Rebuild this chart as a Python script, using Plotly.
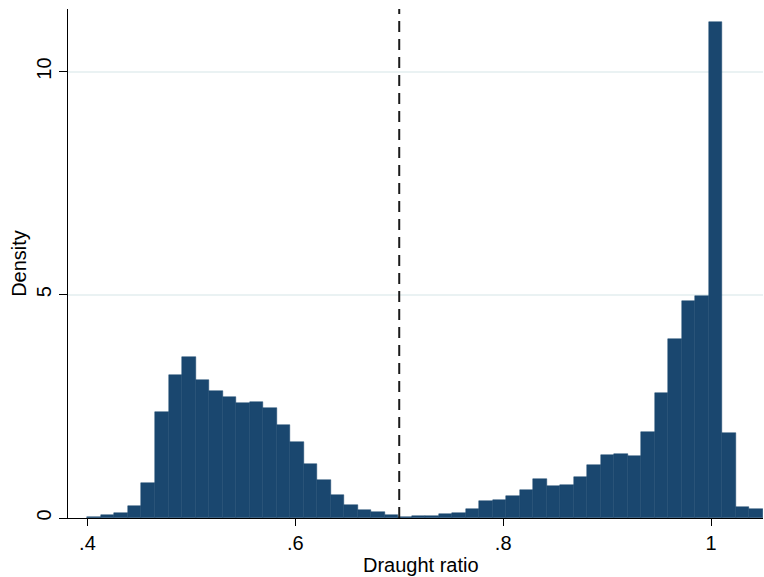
import numpy as np
import plotly.graph_objects as go

# Histogram: 50 bins starting at 0.4, width 0.013
bin_start = 0.4
bin_width = 0.013
density = [
    0.03, 0.07, 0.11, 0.26, 0.79, 2.37, 3.21, 3.60, 3.08, 2.85,
    2.70, 2.57, 2.60, 2.47, 2.08, 1.71, 1.21, 0.85, 0.52, 0.30,
    0.19, 0.13, 0.07, 0.03, 0.045, 0.045, 0.09, 0.12, 0.20, 0.37,
    0.40, 0.49, 0.63, 0.88, 0.72, 0.74, 0.92, 1.19, 1.42, 1.44,
    1.38, 1.93, 2.79, 4.00, 4.85, 4.97, 11.12, 1.90, 0.25, 0.21,
]
threshold = 0.7
x_tickvals = [0.4, 0.6, 0.8, 1.0]
x_ticktext = [".4", ".6", ".8", "1"]
y_tickvals = [0, 5, 10]
y_ticktext = ["0", "5", "10"]
x_title = "Draught ratio"
y_title = "Density"

centers = bin_start + bin_width * (np.arange(len(density)) + 0.5)

fig = go.Figure()
fig.add_trace(go.Bar(
    x=centers, y=density, width=bin_width,
    marker=dict(color="#1a476f", line=dict(color="#1a476f", width=0.5)),
    showlegend=False, hoverinfo="x+y",
))
fig.add_vline(x=threshold, line=dict(color="#1a1a1a", width=2, dash="11px,7px"))

font = "Liberation Sans, Arial, Helvetica, sans-serif"
fig.add_annotation(
    text=x_title, xref="paper", yref="paper", x=0.508, y=0,
    xanchor="center", yanchor="top", yshift=-34, showarrow=False,
    font=dict(family=font, size=20, color="black"),
)
fig.update_layout(
    width=764, height=577,
    margin=dict(l=68, r=1, t=9, b=59),
    paper_bgcolor="white", plot_bgcolor="white",
    bargap=0,
    font=dict(family=font, size=20, color="black"),
    xaxis=dict(
        range=[0.3813, 1.05],
        tickvals=x_tickvals, ticktext=x_ticktext,
        ticks="outside", ticklen=7, tickcolor="black", tickwidth=1,
        showline=True, linecolor="black", linewidth=1,
        showgrid=False, zeroline=False,
        tickfont=dict(size=20),
    ),
    yaxis=dict(
        range=[0, 11.4],
        tickvals=y_tickvals, ticktext=y_ticktext, tickangle=-90,
        ticks="outside", ticklen=8, tickcolor="black", tickwidth=1,
        showline=True, linecolor="black", linewidth=1,
        showgrid=True, gridcolor="#eaf2f3", gridwidth=1.5,
        zeroline=False,
        title=dict(text=y_title, standoff=1, font=dict(size=20)),
        tickfont=dict(size=20),
    ),
)
fig.write_html("out.html")
